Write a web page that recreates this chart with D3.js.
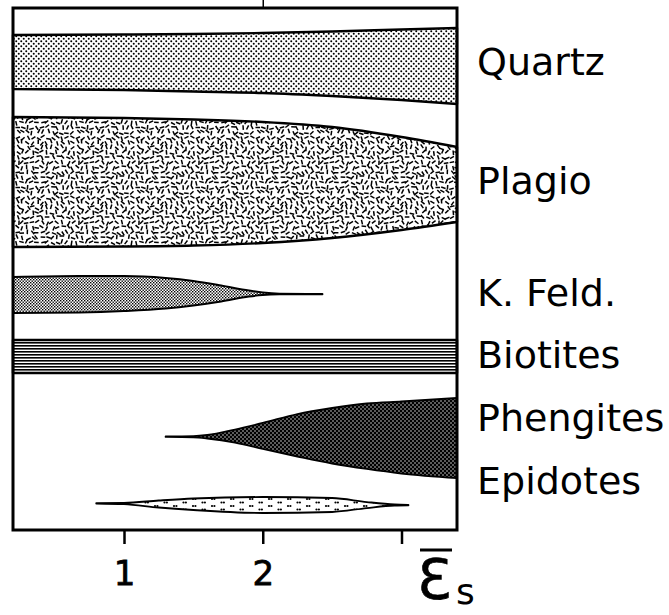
<!DOCTYPE html>
<html>
<head>
<meta charset="utf-8">
<script src="https://cdn.jsdelivr.net/npm/d3@7"></script>
<style>
  html, body { margin: 0; padding: 0; background: #fff; }
  svg { display: block; }
</style>
</head>
<body>
<svg id="chart" width="669" height="615"></svg>
<script>
// Mineral bands: relative abundance envelopes against mean strain (ε̄s).
// Vertical values are in chart units, 0 = top of frame, 100 = bottom.
const minerals = ["Quartz", "Plagio", "K. Feld.", "Biotites", "Phengites", "Epidotes"];

const quartzStrain = [0.2, 1.0, 1.5, 2.0, 2.5, 3.0, 3.4];
const quartzUpper  = [5.17, 5.08, 4.98, 4.79, 4.50, 4.12, 3.83];
const quartzLower  = [15.52, 15.71, 16.00, 16.28, 16.86, 17.62, 18.39];

const plagioStrain = [0.2, 1.0, 1.5, 2.0, 2.5, 3.0, 3.4];
const plagioUpper  = [20.88, 21.07, 21.36, 21.84, 22.80, 24.71, 26.63];
const plagioLower  = [45.79, 45.69, 45.50, 45.02, 44.06, 42.53, 41.00];

const kfeldStrain = [0.2, 0.675, 1.0, 1.3, 1.5, 1.7, 1.9, 2.0, 2.12, 2.43];
const kfeldUpper  = [51.53, 51.34, 51.34, 51.72, 52.30, 53.16, 54.12, 54.50, 54.72, 54.78];
const kfeldLower  = [58.43, 58.33, 58.05, 57.57, 56.99, 56.23, 55.27, 54.98, 54.86, 54.82];

const biotiteStrain = [0.2, 3.4];
const biotiteUpper  = [63.60, 63.60];
const biotiteLower  = [69.92, 69.92];

const phengiteStrain = [1.3, 1.5, 1.6, 1.8, 2.0, 2.25, 2.5, 2.75, 3.0, 3.4];
const phengiteUpper  = [82.08, 82.02, 81.80, 80.75, 79.50, 77.78, 76.63, 75.77, 75.38, 74.71];
const phengiteLower  = [82.16, 82.25, 82.47, 83.24, 84.48, 85.92, 87.26, 88.31, 89.18, 90.04];

const epidoteStrain = [0.8, 1.0, 1.25, 1.5, 2.0, 2.5, 2.75, 2.95, 3.05];
const epidoteUpper  = [94.84, 94.80, 94.35, 93.97, 93.68, 93.87, 94.64, 95.11, 95.20];
const epidoteLower  = [94.92, 95.05, 95.69, 96.17, 96.74, 96.55, 95.79, 95.31, 95.26];

const strainTicks = [1, 2, 3];
const strainTickLabels = ["1", "2", ""];

// ---------------------------------------------------------------------------
const svg = d3.select("#chart");
const frame = { left: 13, right: 457, top: 8, bottom: 530 };

const x = d3.scaleLinear().domain([0.2, 3.4]).range([frame.left, frame.right]);
const y = d3.scaleLinear().domain([0, 100]).range([frame.top, frame.bottom]);

const defs = svg.append("defs");

// Quartz: dot stipple
const pq = defs.append("pattern").attr("id", "pat-quartz")
  .attr("patternUnits", "userSpaceOnUse").attr("width", 5).attr("height", 5);
pq.append("rect").attr("width", 5).attr("height", 5).attr("fill", "#fff");
[[1.25, 1.25], [3.75, 3.75]].forEach(([cx, cy]) =>
  pq.append("circle").attr("cx", cx).attr("cy", cy).attr("r", 1.0).attr("fill", "#000"));

// Plagioclase: short dashes scattered at mixed orientations.
// A small integer hash gives each dash a fixed jitter and angle so the
// texture looks irregular but is identical on every render.
const hash = n => {
  let h = (n * 374761393 + 668265263) | 0;
  h = Math.imul(h ^ (h >>> 13), 1274126177);
  h ^= h >>> 16;
  return (h >>> 0) / 4294967296;
};
const tile = 60, cell = 5;
const pp = defs.append("pattern").attr("id", "pat-plagio")
  .attr("patternUnits", "userSpaceOnUse").attr("width", tile).attr("height", tile);
pp.append("rect").attr("width", tile).attr("height", tile).attr("fill", "#fff");
const dashes = [];
for (let j = 0; j < tile / cell; j++) {
  for (let i = 0; i < tile / cell; i++) {
    const k = j * 97 + i * 13 + 7;
    const cx = i * cell + 1 + hash(k) * 3;
    const cy = j * cell + 1 + hash(k + 5000) * 3;
    const ang = hash(k + 9000) * Math.PI;
    dashes.push({ cx, cy, ang });
  }
}
// draw each dash, plus wrapped copies so tile seams stay continuous
const L = 2.3;
dashes.forEach(d => {
  [-tile, 0, tile].forEach(ox => [-tile, 0, tile].forEach(oy => {
    const cx = d.cx + ox, cy = d.cy + oy;
    if (cx < -4 || cx > tile + 4 || cy < -4 || cy > tile + 4) return;
    pp.append("line")
      .attr("x1", cx - L * Math.cos(d.ang)).attr("y1", cy - L * Math.sin(d.ang))
      .attr("x2", cx + L * Math.cos(d.ang)).attr("y2", cy + L * Math.sin(d.ang))
      .attr("stroke", "#000").attr("stroke-width", 1.5);
  }));
});

// K-feldspar: fine dense stipple
const pk = defs.append("pattern").attr("id", "pat-kfeld")
  .attr("patternUnits", "userSpaceOnUse").attr("width", 3).attr("height", 3);
pk.append("rect").attr("width", 3).attr("height", 3).attr("fill", "#fff");
pk.append("rect").attr("x", 0).attr("y", 0).attr("width", 1.4).attr("height", 1.4).attr("fill", "#000");
pk.append("rect").attr("x", 1.5).attr("y", 1.5).attr("width", 1.4).attr("height", 1.4).attr("fill", "#000");

// Biotite: horizontal ruling
const pb = defs.append("pattern").attr("id", "pat-biotite")
  .attr("patternUnits", "userSpaceOnUse").attr("width", 12).attr("height", 3);
pb.append("rect").attr("width", 12).attr("height", 3).attr("fill", "#fff");
pb.append("rect").attr("y", 0).attr("width", 12).attr("height", 1.6).attr("fill", "#000");

// Phengite: dark screen with white dots
const ph = defs.append("pattern").attr("id", "pat-phengite")
  .attr("patternUnits", "userSpaceOnUse").attr("width", 4).attr("height", 4);
ph.append("rect").attr("width", 4).attr("height", 4).attr("fill", "#000");
[[1, 1], [3, 3]].forEach(([cx, cy]) =>
  ph.append("circle").attr("cx", cx).attr("cy", cy).attr("r", 0.7).attr("fill", "#fff"));

// Epidote: sparse paired dots
const pe = defs.append("pattern").attr("id", "pat-epidote")
  .attr("patternUnits", "userSpaceOnUse").attr("width", 19).attr("height", 7);
pe.append("rect").attr("width", 19).attr("height", 7).attr("fill", "#fff");
[[3, 2], [5.4, 2], [12.5, 5.5], [14.9, 5.5]].forEach(([cx, cy]) =>
  pe.append("circle").attr("cx", cx).attr("cy", cy).attr("r", 1.1).attr("fill", "#000"));

// ---------------------------------------------------------------------------
const band = (strain, upper, lower) =>
  strain.map((s, i) => ({ s, hi: upper[i], lo: lower[i] }));

const bands = [
  { name: minerals[0], data: band(quartzStrain, quartzUpper, quartzLower), fill: "url(#pat-quartz)", sw: 2.4 },
  { name: minerals[1], data: band(plagioStrain, plagioUpper, plagioLower), fill: "url(#pat-plagio)", sw: 2.4 },
  { name: minerals[2], data: band(kfeldStrain, kfeldUpper, kfeldLower), fill: "url(#pat-kfeld)", sw: 2 },
  { name: minerals[3], data: band(biotiteStrain, biotiteUpper, biotiteLower), fill: "url(#pat-biotite)", sw: 2.4 },
  { name: minerals[4], data: band(phengiteStrain, phengiteUpper, phengiteLower), fill: "url(#pat-phengite)", sw: 1.8 },
  { name: minerals[5], data: band(epidoteStrain, epidoteUpper, epidoteLower), fill: "url(#pat-epidote)", sw: 1.8 }
];

const area = d3.area()
  .x(d => x(d.s))
  .y0(d => y(d.lo))
  .y1(d => y(d.hi))
  .curve(d3.curveMonotoneX);

svg.append("g").attr("class", "bands")
  .selectAll("path")
  .data(bands)
  .join("path")
  .attr("d", d => area(d.data))
  .attr("fill", d => d.fill)
  .attr("stroke", "#000")
  .attr("stroke-width", d => d.sw)
  .attr("stroke-linejoin", "round");

// Frame
svg.append("rect")
  .attr("x", frame.left).attr("y", frame.top)
  .attr("width", frame.right - frame.left).attr("height", frame.bottom - frame.top)
  .attr("fill", "none").attr("stroke", "#000").attr("stroke-width", 3);

// Strain axis
const axisB = svg.append("g")
  .attr("transform", `translate(0,${frame.bottom})`)
  .call(d3.axisBottom(x).tickValues(strainTicks)
    .tickFormat((d, i) => strainTickLabels[i])
    .tickSize(14).tickPadding(17));
axisB.select(".domain").remove();
axisB.selectAll(".tick line").attr("stroke", "#000").attr("stroke-width", 2.5);
axisB.selectAll(".tick text")
  .attr("font-family", "'DejaVu Sans', sans-serif")
  .attr("font-size", 34).attr("fill", "#000")
  .attr("stroke", "#000").attr("stroke-width", 0.8);

const axisT = svg.append("g")
  .attr("transform", `translate(0,${frame.top})`)
  .call(d3.axisTop(x).tickValues([2]).tickFormat("").tickSize(8));
axisT.select(".domain").remove();
axisT.selectAll(".tick line").attr("stroke", "#000").attr("stroke-width", 1.5);

// Axis title ε̄s
const title = svg.append("g").attr("class", "axis-title")
  .attr("font-family", "'DejaVu Sans', sans-serif").attr("fill", "#000");
title.append("text").attr("x", 417).attr("y", 598).attr("font-size", 56)
  .attr("stroke", "#000").attr("stroke-width", 0.6).text("Ɛ");
title.append("line").attr("x1", 420).attr("x2", 452).attr("y1", 550).attr("y2", 550)
  .attr("stroke", "#000").attr("stroke-width", 3);
title.append("text").attr("x", 456).attr("y", 604).attr("font-size", 36).text("s");

// Mineral labels
const labelBaselines = [75, 194, 306, 368, 431, 494];
svg.append("g").attr("class", "labels")
  .selectAll("text")
  .data(minerals)
  .join("text")
  .attr("x", 477)
  .attr("y", (d, i) => labelBaselines[i])
  .attr("font-family", "'DejaVu Sans', sans-serif")
  .attr("font-size", 38)
  .attr("fill", "#000")
  .text(d => d);
</script>
</body>
</html>
